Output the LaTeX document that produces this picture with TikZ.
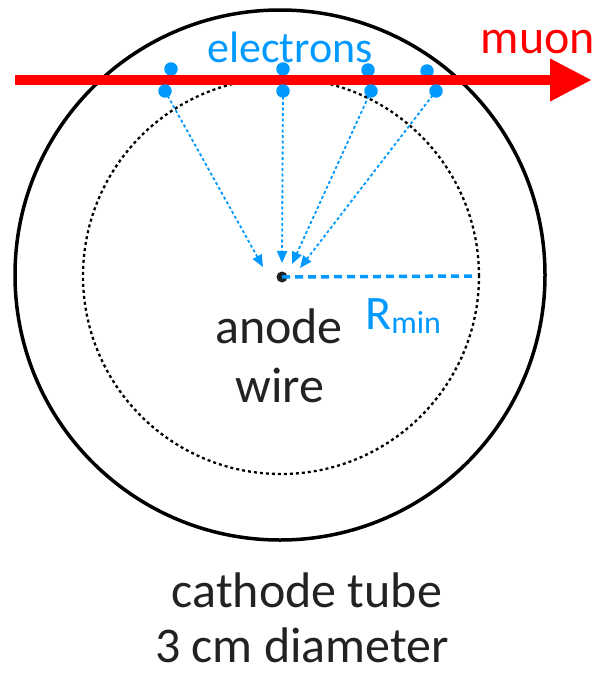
\documentclass[tikz,border=0pt]{standalone}
\usepackage{fontspec}
\setmainfont{Carlito}
\usetikzlibrary{arrows.meta}
\definecolor{eblue}{RGB}{0,153,255}
\definecolor{mred}{RGB}{255,0,0}
\definecolor{txt}{RGB}{34,34,34}
\begin{document}
\begin{tikzpicture}[x=1pt,y=-1pt,
  lbl/.style={inner sep=0pt, anchor=base, text=txt, font=\fontsize{50}{60}\selectfont},
  edot/.style={circle, fill=eblue, inner sep=0pt, minimum size=13.5pt},
  drift/.style={eblue, line width=1.8pt, dash pattern=on 3pt off 2.5pt, -{Triangle[length=12pt,width=10pt]}},
  rline/.style={eblue, line width=3.5pt, dash pattern=on 8pt off 5pt},
  tube/.style={black, line width=3.5pt},
  rminc/.style={black, line width=2.3pt, dash pattern=on 3pt off 3pt},
  muonarrow/.style={mred, line width=10pt, -{Triangle[length=42pt,width=40pt]}}
]
\useasboundingbox (0,0) rectangle (601,677);
% tube and dotted circle
\draw[tube] (280,275) circle[radius=265pt];
\draw[rminc] (281,276) circle[radius=198pt];
% anode wire
\node[circle, fill=txt, inner sep=0pt, minimum size=11pt] (anode) at (282,277) {};
\coordinate (rend) at (477,276);
\draw[rline] (anode.center) -- (rend);
% electrons
\node[edot] (e1t) at (171,69) {};
\node[edot] (e2t) at (283,69) {};
\node[edot] (e3t) at (368,70) {};
\node[edot] (e4t) at (427,71) {};
% muon track
\coordinate (m0) at (15,80);
\coordinate (m1) at (592,80);
\draw[muonarrow] (m0) -- (m1);
\node[edot] (e1b) at (165,91) {};
\node[edot] (e2b) at (283,91) {};
\node[edot] (e3b) at (371,91) {};
\node[edot] (e4b) at (436,91) {};
\coordinate (t1) at (263,267);
\coordinate (t2) at (282,263);
\coordinate (t3) at (292,264);
\coordinate (t4) at (300,268);
\draw[drift] (e1b.center) -- (t1);
\draw[drift] (e2b.center) -- (t2);
\draw[drift] (e3b.center) -- (t3);
\draw[drift] (e4b.center) -- (t4);
% labels
\node[lbl, text=eblue, font=\fontsize{44}{50}\selectfont] (electrons) at (290,63) {electrons};
\node[lbl, text=mred, font=\fontsize{48}{55}\selectfont] (muon) at (538,53) {muon};
\node[lbl, anchor=base west, text=eblue, font=\fontsize{48}{55}\selectfont] (rmin) at (365,329) {R\raisebox{-4pt}{\fontsize{32}{36}\selectfont min}};
\node[lbl] (anodeA) at (279,343) {anode};
\node[lbl] (anodeB) at (280,402) {wire};
\node[lbl] (cathA) at (307,607) {cathode tube};
\node[lbl] (cathB) at (302,662) {3 cm diameter};
\end{tikzpicture}
\end{document}
